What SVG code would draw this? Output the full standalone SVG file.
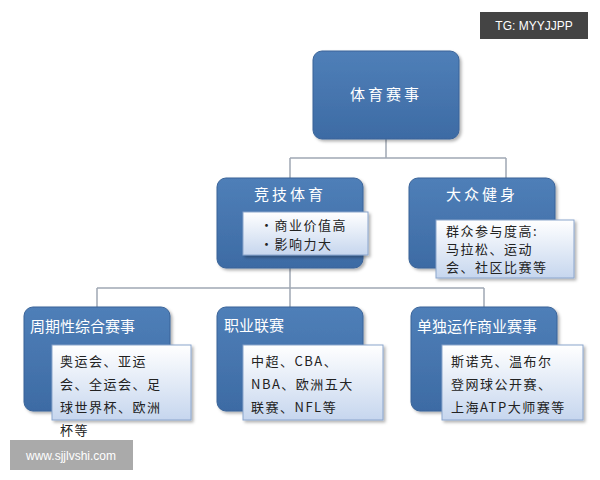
<svg xmlns="http://www.w3.org/2000/svg" width="600" height="480" viewBox="0 0 600 480">
<defs>
<linearGradient id="bg" x1="0" y1="0" x2="0" y2="1"><stop offset="0" stop-color="#4f7fb8"/><stop offset="1" stop-color="#3d6ba4"/></linearGradient>
<linearGradient id="lg" x1="0" y1="0" x2="0" y2="1"><stop offset="0" stop-color="#ffffff"/><stop offset="1" stop-color="#c6d6ee"/></linearGradient>
<filter id="sh" x="-10%" y="-10%" width="130%" height="130%"><feDropShadow dx="2" dy="2" stdDeviation="1.5" flood-color="#000" flood-opacity="0.3"/></filter>
</defs>
<style>
.b{fill:url(#bg);stroke:#3a6398;stroke-width:1;filter:url(#sh)}
.l{fill:url(#lg);stroke:#8aa5cc;stroke-width:1;filter:url(#sh)}
.t{font-family:"Noto Sans CJK SC",sans-serif;fill:#fff;font-size:15px}
.s{font-family:"Noto Sans CJK SC",sans-serif;fill:#222;font-size:13px;letter-spacing:1.5px}
.c{fill:none;stroke:#a0a8b4;stroke-width:1.5}
</style>
<rect width="600" height="480" fill="#fff"/>
<g id="connectors">
<path class="c" d="M386 139V158M290 158H506M290 158V178M506 158V178M290 268V288M97 288H484M97 288V307M290 288V307M484 288V307"/>
</g>
<g id="root"><rect class="b" x="313" y="51" width="146" height="88" rx="9"/><text class="t" x="386" y="100" text-anchor="middle" font-size="17" letter-spacing="3">体育赛事</text></g>
<g id="jingji"><rect class="b" x="217" y="178" width="146" height="90" rx="9"/><text class="t" x="290" y="200" text-anchor="middle" letter-spacing="3">竞技体育</text>
<rect class="l" x="243" y="212" width="125" height="43"/><text class="s" x="260" y="230">•商业价值高</text><text class="s" x="260" y="249">•影响力大</text></g>
<g id="dazhong"><rect class="b" x="409" y="178" width="146" height="90" rx="9"/><text class="t" x="482" y="200" text-anchor="middle" letter-spacing="3">大众健身</text>
<rect class="l" x="436" y="220" width="138" height="58"/><text class="s" x="446" y="236">群众参与度高:</text><text class="s" x="446" y="254">马拉松、运动</text><text class="s" x="446" y="272">会、社区比赛等</text></g>
<g id="zhouqi"><rect class="b" x="24" y="307" width="146" height="104" rx="9"/><text class="t" x="30" y="332" font-size="14">周期性综合赛事</text>
<rect class="l" x="52" y="345" width="139" height="75"/><text class="s" x="60" y="366">奥运会、亚运</text><text class="s" x="60" y="389">会、全运会、足</text><text class="s" x="60" y="412">球世界杯、欧洲</text><text class="s" x="60" y="435">杯等</text></g>
<g id="zhiye"><rect class="b" x="217" y="307" width="146" height="104" rx="9"/><text class="t" x="224" y="331" font-size="14">职业联赛</text>
<rect class="l" x="243" y="345" width="140" height="75"/><text class="s" x="251" y="366">中超、CBA、</text><text class="s" x="251" y="389">NBA、欧洲五大</text><text class="s" x="251" y="412">联赛、NFL等</text></g>
<g id="dandu"><rect class="b" x="411" y="307" width="146" height="104" rx="9"/><text class="t" x="417" y="332" font-size="14">单独运作商业赛事</text>
<rect class="l" x="442" y="345" width="141" height="75"/><text class="s" x="451" y="366">斯诺克、温布尔</text><text class="s" x="451" y="389">登网球公开赛、</text><text class="s" x="451" y="412">上海ATP大师赛等</text></g>
<g id="wm1"><rect x="480" y="12" width="108" height="27" fill="#444"/><text x="534" y="30" text-anchor="middle" font-family="Liberation Sans,sans-serif" font-size="12" fill="#fff">TG: MYYJJPP</text></g>
<g id="wm2"><rect x="10" y="440" width="123" height="30" fill="#aaa"/><text x="71" y="460" text-anchor="middle" font-family="Liberation Sans,sans-serif" font-size="12" fill="#fff">www.sjjlvshi.com</text></g>
</svg>
